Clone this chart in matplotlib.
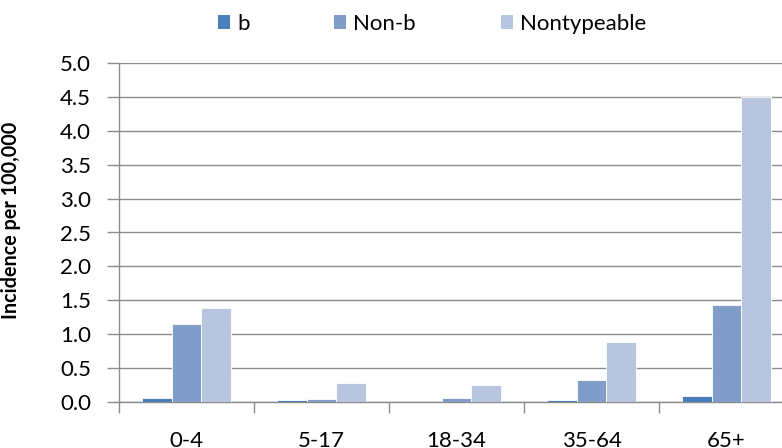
import matplotlib
matplotlib.use("Agg")
import matplotlib.pyplot as plt
import numpy as np
from matplotlib.patches import Patch

categories = ["0-4", "5-17", "18-34", "35-64", "65+"]
series_names = ["b", "Non-b", "Nontypeable"]
b_vals = [0.05, 0.02, 0.0, 0.03, 0.08]
nonb_vals = [1.15, 0.04, 0.05, 0.32, 1.43]
nontype_vals = [1.39, 0.28, 0.24, 0.88, 4.5]
yticks = [0.0, 0.5, 1.0, 1.5, 2.0, 2.5, 3.0, 3.5, 4.0, 4.5, 5.0]

colors = ["#4A7EBB", "#7F9DC8", "#B7C5DF"]

plt.rcParams['font.family'] = ['Lato', 'DejaVu Sans']

fig = plt.figure(figsize=(7.82, 4.48), dpi=100)
ax = fig.add_axes([119/782, (448-401.7)/448, (794-119)/782, (401.7-63.3)/448])

x = np.arange(len(categories))
w = 0.222
for i, (vals, c) in enumerate(zip([b_vals, nonb_vals, nontype_vals], colors)):
    ax.bar(x + (i-1)*w, vals, width=w, color=c, edgecolor="white", linewidth=0.6, zorder=3)

ax.set_xlim(-0.5, len(categories)-0.5)
ax.set_ylim(0, 5.0)
ax.set_yticks(yticks)
ax.set_yticklabels([f"{v:.1f}" for v in yticks], fontsize=16)
ax.yaxis.grid(True, color="#8C8C8C", linewidth=1.0, zorder=0)
ax.set_axisbelow(True)

# x ticks at category boundaries, labels at centers
ax.set_xticks(np.arange(len(categories)+1) - 0.5)
ax.set_xticklabels([])
ax.set_xticks(x, minor=True)
ax.set_xticklabels(categories, minor=True, fontsize=16)
ax.tick_params(axis='x', which='major', length=8, color="#8C8C8C", width=1)
ax.tick_params(axis='x', which='minor', length=0, pad=21)
ax.tick_params(axis='y', length=9, color="#8C8C8C", width=1, pad=11)

for s in ["top", "right"]:
    ax.spines[s].set_visible(False)
for s in ["left", "bottom"]:
    ax.spines[s].set_color("#8C8C8C")
    ax.spines[s].set_linewidth(1)

ax.set_ylabel("Incidence per 100,000", fontsize=14.2, fontweight="bold")
ax.yaxis.set_label_coords((21-119)/675, 0.535)

handles = [Patch(facecolor=c, edgecolor="none") for c in colors]
fig.legend(handles, series_names, loc="center", bbox_to_anchor=(432/782, 1-24/448), ncol=3,
           frameon=False, fontsize=16, handlelength=0.55, handleheight=0.55,
           handletextpad=0.32, columnspacing=3.8, borderpad=0)

fig.savefig("out.png", dpi=100)
